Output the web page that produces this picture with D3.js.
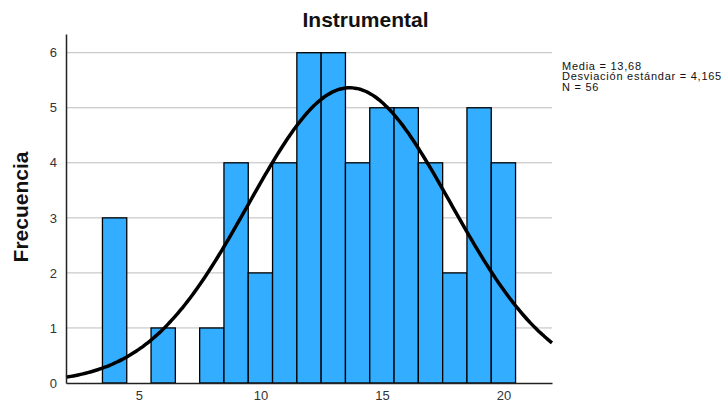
<!DOCTYPE html>
<html>
<head>
<meta charset="utf-8">
<script src="https://cdn.jsdelivr.net/npm/d3@7"></script>
<style>
  body { margin: 0; background: #fff; }
  svg { display: block; font-family: "Liberation Sans", Arial, sans-serif; }
</style>
</head>
<body>
<div id="chart"></div>
<script>
// bin centres (width 1) and counts
const binCenters = [4, 5, 6, 7, 8, 9, 10, 11, 12, 13, 14, 15, 16, 17, 18, 19, 20];
const counts     = [3, 0, 1, 0, 1, 4, 2, 4, 6, 6, 4, 5, 5, 4, 2, 5, 4];
const xTicks = [5, 10, 15, 20];
const yTicks = [0, 1, 2, 3, 4, 5, 6];
const statLabels = ["Media = 13,68", "Desviación estándar = 4,165", "N = 56"];
const mean = 13.68, sd = 4.165, n = 56, binWidth = 1;

const width = 728, height = 410;
const margin = { left: 66, right: 176, top: 34, bottom: 27 };

const svg = d3.select("#chart").append("svg")
    .attr("width", width)
    .attr("height", height);

const x = d3.scaleLinear().domain([2, 22]).range([margin.left, width - margin.right]);
const y = d3.scaleLinear().domain([0, 6.34]).range([height - margin.bottom, margin.top]);

// grid lines
svg.append("g")
    .selectAll("line")
    .data(yTicks.filter(d => d > 0))
    .join("line")
    .attr("x1", x(2)).attr("x2", x(22))
    .attr("y1", d => y(d)).attr("y2", d => y(d))
    .attr("stroke", "#bdbdbd")
    .attr("stroke-width", 1);

// bars
svg.append("g")
    .selectAll("rect")
    .data(binCenters.map((c, i) => ({ c, v: counts[i] })).filter(d => d.v > 0))
    .join("rect")
    .attr("x", d => x(d.c - binWidth / 2))
    .attr("width", d => x(d.c + binWidth / 2) - x(d.c - binWidth / 2))
    .attr("y", d => y(d.v))
    .attr("height", d => y(0) - y(d.v))
    .attr("fill", "#33adff")
    .attr("stroke", "#000")
    .attr("stroke-width", 1.3);

// fitted normal curve from the reported mean / sd
const curvePts = d3.range(2, 22.001, 0.1).map(v => [v,
    n * binWidth / (sd * Math.sqrt(2 * Math.PI)) * Math.exp(-0.5 * ((v - mean) / sd) ** 2)]);

svg.append("path")
    .datum(curvePts)
    .attr("fill", "none")
    .attr("stroke", "#000")
    .attr("stroke-width", 3.5)
    .attr("d", d3.line().x(d => x(d[0])).y(d => y(d[1])).curve(d3.curveBasis));

// axes
const xAxis = svg.append("g")
    .attr("transform", `translate(0,${y(0)})`)
    .call(d3.axisBottom(x).tickValues(xTicks).tickSize(0).tickPadding(8));
const yAxis = svg.append("g")
    .attr("transform", `translate(${x(2)},0)`)
    .call(d3.axisLeft(y).tickValues(yTicks).tickFormat(d3.format("d")).tickSize(0).tickPadding(9));

[xAxis, yAxis].forEach(a => {
    a.select(".domain").attr("stroke", "#222").attr("stroke-width", 1.5);
    a.selectAll("text")
        .attr("font-family", "'Liberation Sans', Arial, sans-serif")
        .attr("font-size", 13)
        .attr("fill", "#333");
});

// title
svg.append("text")
    .attr("x", 365.5).attr("y", 27)
    .attr("text-anchor", "middle")
    .attr("font-size", 21)
    .attr("font-weight", "bold")
    .attr("fill", "#111")
    .text("Instrumental");

// y label
svg.append("text")
    .attr("transform", `translate(28,207) rotate(-90)`)
    .attr("text-anchor", "middle")
    .attr("font-size", 21)
    .attr("font-weight", "bold")
    .attr("fill", "#111")
    .text("Frecuencia");

// stats box
svg.append("g")
    .selectAll("text")
    .data(statLabels)
    .join("text")
    .attr("x", 562)
    .attr("y", (d, i) => 69.5 + i * 10.5)
    .attr("font-size", 11)
    .attr("letter-spacing", 0.75)
    .attr("fill", "#111")
    .text(d => d);
</script>
</body>
</html>
